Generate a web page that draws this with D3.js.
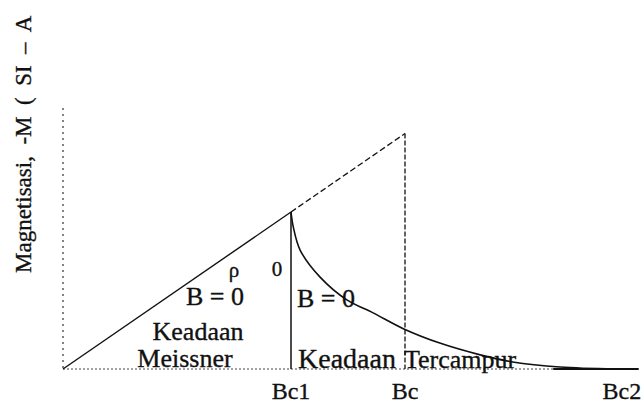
<!DOCTYPE html>
<html>
<head>
<meta charset="utf-8">
<script src="https://cdn.jsdelivr.net/npm/d3@7"></script>
<style>
  html, body { margin: 0; padding: 0; background: #fff; }
  svg text { font-family: "Liberation Serif", "DejaVu Serif", serif; fill: #111; stroke: #111; stroke-width: 0.35; white-space: pre; }
</style>
</head>
<body>
<svg id="chart" width="643" height="407"></svg>
<script>
// Critical fields (field units)
const criticalFields = [4, 6, 9.7];
const criticalLabels = ["Bc1", "Bc", "Bc2"];

// Mixed-state magnetization curve: field B and -M
const mixedB = [4.0, 4.04, 4.16, 4.51, 4.98, 5.44, 5.98, 6.61, 7.32, 7.89, 8.72, 9.7];
const mixedM = [4.0, 3.62, 3.03, 2.34, 1.76, 1.43, 1.02, 0.66, 0.36, 0.18, 0.05, 0.0];

// Meissner line -M = B
const meissnerB = [0, 4];
const extensionB = [4, 6];

const svg = d3.select("#chart");
const x = d3.scaleLinear().domain([0, 10]).range([63, 633]);
const y = d3.scaleLinear().domain([0, 6.65]).range([369, 108]);

const ink = "#111";

// y axis (dotted)
svg.append("line")
  .attr("x1", x(0)).attr("x2", x(0))
  .attr("y1", y(6.65)).attr("y2", y(0))
  .attr("stroke", "#333").attr("stroke-width", 1.2)
  .attr("stroke-dasharray", "2,4");

// x axis baseline: dotted across, solid near Bc2
svg.append("line")
  .attr("x1", x(0)).attr("x2", x(8.6))
  .attr("y1", y(0)).attr("y2", y(0))
  .attr("stroke", "#444").attr("stroke-width", 1)
  .attr("stroke-dasharray", "2,2");
svg.append("line")
  .attr("x1", x(8.6)).attr("x2", x(10.1))
  .attr("y1", y(0)).attr("y2", y(0))
  .attr("stroke", ink).attr("stroke-width", 1.8);

const line = d3.line().x(d => x(d[0])).y(d => y(d[1]));

// Meissner state line
svg.append("path")
  .attr("d", line(meissnerB.map(b => [b, b])))
  .attr("fill", "none").attr("stroke", ink).attr("stroke-width", 1.4);

// dashed extension to Bc
svg.append("path")
  .attr("d", line(extensionB.map(b => [b, b])))
  .attr("fill", "none").attr("stroke", ink).attr("stroke-width", 1.3)
  .attr("stroke-dasharray", "6,3");

// vertical at Bc1 (solid) and Bc (dashed)
svg.append("line")
  .attr("x1", x(criticalFields[0])).attr("x2", x(criticalFields[0]))
  .attr("y1", y(criticalFields[0])).attr("y2", y(0))
  .attr("stroke", ink).attr("stroke-width", 1.5);
svg.append("line")
  .attr("x1", x(criticalFields[1])).attr("x2", x(criticalFields[1]))
  .attr("y1", y(criticalFields[1])).attr("y2", y(0))
  .attr("stroke", ink).attr("stroke-width", 1.3)
  .attr("stroke-dasharray", "5,2");

// mixed state curve
svg.append("path")
  .attr("d", d3.line().x(d => x(d[0])).y(d => y(d[1])).curve(d3.curveCatmullRom.alpha(0.5))(mixedB.map((b, i) => [b, mixedM[i]])))
  .attr("fill", "none").attr("stroke", ink).attr("stroke-width", 1.6);

// field labels
svg.selectAll("text.tick").data(criticalFields).join("text")
  .attr("class", "tick")
  .attr("x", (d, i) => x(d) + (i === 2 ? 6 : 0))
  .attr("y", 399)
  .attr("text-anchor", "middle")
  .attr("font-size", 24)
  .text((d, i) => criticalLabels[i]);

// region annotations
const notes = [
  { t: "ρ", x: 234, y: 277, s: 21 },
  { t: "0", x: 277, y: 276, s: 21 },
  { t: "B = 0", x: 215, y: 305, s: 26 },
  { t: "Keadaan", x: 198, y: 340, s: 26 },
  { t: "Meissner", x: 185, y: 367, s: 26 },
  { t: "B = 0", x: 326, y: 307, s: 26 },
  { t: "Keadaan", x: 347, y: 368, s: 28 },
  { t: "Tercampur", x: 460, y: 368, s: 26 }
];
svg.selectAll("text.note").data(notes).join("text")
  .attr("class", "note")
  .attr("x", d => d.x).attr("y", d => d.y)
  .attr("text-anchor", "middle")
  .attr("font-size", d => d.s)
  .text(d => d.t);

// y axis title
svg.append("text")
  .attr("transform", "translate(31,273) rotate(-90)")
  .attr("font-size", 23)
  .text("Magnetisasi,  -M  (  SI  –  A");
</script>
</body>
</html>
